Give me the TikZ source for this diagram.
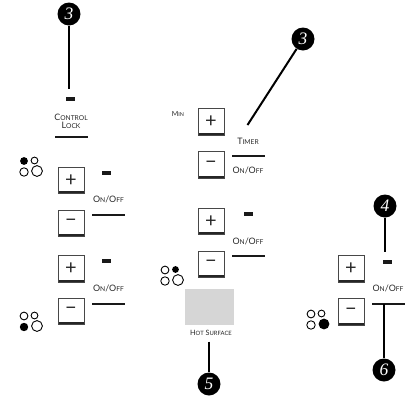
\documentclass[tikz,border=0pt]{standalone}
\usepackage{fontspec}
\setmainfont{Lato}
\newfontfamily\digitfont{Liberation Serif}
\newcommand{\sml}[1]{{\fontsize{6.7}{7}\selectfont #1}}
\newcommand{\onoff}{O\sml{N}/O\sml{FF}}
\tikzset{
  x=1pt,y=-1pt,
  keybox/.style={draw=black!72,line width=0.9pt,fill=white,minimum width=26pt,minimum height=26.5pt,inner sep=0pt,outer sep=0pt,
    font=\fontsize{20}{20}\selectfont,text=black!85,
    path picture={\fill[black!85] ([yshift=2.6pt]path picture bounding box.south west) rectangle (path picture bounding box.south east);}},
  badge/.style={circle,fill=black,minimum size=23pt,inner sep=0pt,text=white,font=\digitfont\itshape\fontsize{17.5}{18}\selectfont},
  lamp/.style={fill=black!90,minimum width=9pt,minimum height=3.6pt,inner sep=0pt,outer sep=0pt},
  bar/.style={line width=1.5pt,black!90},
  lead/.style={line width=2pt,black},
  lab/.style={font=\fontsize{8.9}{9}\selectfont,text=black!85,align=center,inner sep=0pt},
  ring/.style={draw=black,line width=0.9pt,fill=white},
  full/.style={fill=black},
}
\newcommand{\hob}[6]{%
 \path[#3] (#1,#2) circle (3.9);
 \path[#4] ({#1+10.5},{#2-0.5}) circle (3.4);
 \path[#5] (#1,{#2+11}) circle (4.2);
 \path[#6] ({#1+13},{#2+10}) circle (5.4);
}
\begin{document}
\begin{tikzpicture}
\useasboundingbox (0,0) rectangle (416,400);
% control lock
\node[badge] (b1) at (69,14) {3};
\node[lamp] (l1) at (70.5,99) {};
\coordinate (e1) at (69,89);
\draw[lead] (b1) -- (e1);
\node[lab,font=\fontsize{8.9}{8.4}\selectfont] (tc) at (71,121.5) {C\sml{ONTROL}\\L\sml{OCK}};
\coordinate (c1a) at (55,137); \coordinate (c1b) at (88,137);
\draw[bar] (c1a) -- (c1b);
% left column
\hob{24}{161}{full}{ring}{ring}{ring}
\node[keybox] (k1) at (71,180.5) {+};
\node[keybox] (k2) at (71,223.5) {\raisebox{1pt}{−}};
\node[lamp] (l2) at (106.5,173) {};
\node[lab] (t2) at (108.5,199) {\onoff};
\coordinate (c2a) at (92,215); \coordinate (c2b) at (125,215);
\draw[bar] (c2a) -- (c2b);
\node[keybox] (k3) at (71,269) {+};
\node[keybox] (k4) at (71,311.5) {\raisebox{1pt}{−}};
\node[lamp] (l3) at (106.5,261) {};
\node[lab] (t3) at (108.5,288) {\onoff};
\coordinate (c3a) at (92,304); \coordinate (c3b) at (125,304);
\draw[bar] (c3a) -- (c3b);
\hob{24}{316}{ring}{ring}{full}{ring}
% timer
\node[lab,font=\fontsize{7}{7}\selectfont] (tm) at (178,114) {M{\fontsize{5.4}{5}\selectfont IN}};
\node[keybox] (k5) at (211,122) {+};
\node[keybox] (k6) at (211,165) {\raisebox{1pt}{−}};
\node[badge] (b2) at (303,39) {3};
\coordinate (e2) at (247.5,125);
\draw[lead] (b2) -- (e2);
\node[lab] (t4) at (248,141) {T\sml{IMER}};
\coordinate (c4a) at (232,156); \coordinate (c4b) at (265,156);
\draw[bar] (c4a) -- (c4b);
\node[lab] (t5) at (248,170) {\onoff};
% centre
\node[keybox] (k7) at (211,221.5) {+};
\node[keybox] (k8) at (211,264.5) {\raisebox{1pt}{−}};
\node[lamp] (l4) at (248.5,214) {};
\node[lab] (t6) at (248,241) {\onoff};
\coordinate (c5a) at (232,256); \coordinate (c5b) at (265,256);
\draw[bar] (c5a) -- (c5b);
\hob{165}{270}{ring}{full}{ring}{ring}
\node[fill=black!16,minimum width=49pt,minimum height=36pt,inner sep=0pt] (hs) at (209.5,307) {};
\node[lab,font=\fontsize{7.3}{7}\selectfont] (t7) at (211,333) {H{\fontsize{5.9}{6}\selectfont OT} S{\fontsize{5.9}{6}\selectfont URFACE}};
\node[badge] (b3) at (209,384) {5};
\coordinate (e3) at (209,341.5);
\draw[lead] (e3) -- (b3);
% right
\node[keybox] (k9) at (351,269) {+};
\node[keybox] (k10) at (351,312) {\raisebox{1pt}{−}};
\node[badge] (b4) at (385,206) {4};
\node[lamp] (l5) at (387,262) {};
\coordinate (e4) at (385,252);
\draw[lead] (b4) -- (e4);
\node[lab] (t8) at (388,288) {\onoff};
\coordinate (c6a) at (372,304); \coordinate (c6b) at (405,304); \coordinate (c6m) at (384,304);
\draw[bar] (c6a) -- (c6b);
\node[badge] (b5) at (384,370) {6};
\draw[lead] (c6m) -- (b5);
\hob{311}{314}{ring}{ring}{ring}{full}
\end{tikzpicture}
\end{document}
